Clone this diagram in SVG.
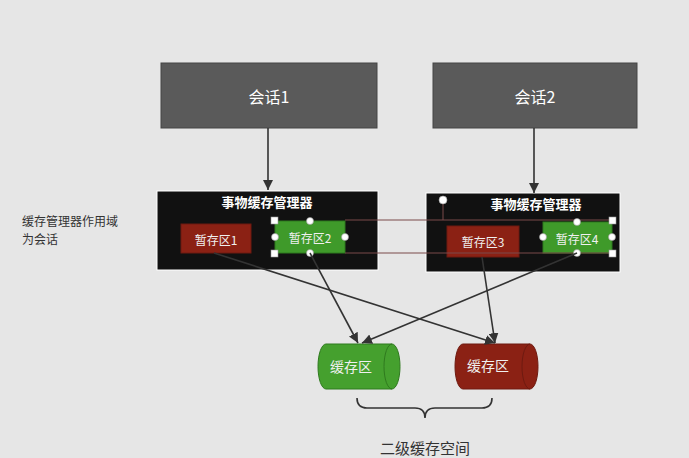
<svg xmlns="http://www.w3.org/2000/svg" width="689" height="458" viewBox="0 0 689 458">
<defs>
<marker id="ah" viewBox="0 0 10 10" refX="10" refY="5" markerWidth="10" markerHeight="10" markerUnits="userSpaceOnUse" orient="auto">
<path d="M0,0 L10,5 L0,10 Z" fill="#333"/>
</marker>
<style>
text{font-family:"Noto Sans CJK SC","Liberation Sans",sans-serif;}
.sess{fill:#5a5a5a;stroke:#444;stroke-width:1}
.st{fill:#fff;font-size:16px;text-anchor:middle;dominant-baseline:central}
.mgr{fill:#111;stroke:#fff;stroke-width:1}
.mt{fill:#fff;font-size:13px;font-weight:bold;text-anchor:middle;dominant-baseline:central}
.red{fill:#8b2114;stroke:#6e1a10}
.grn{fill:#3f9a2a;stroke:#2f7a1e}
.bt{fill:#f0f0f0;font-size:12px;text-anchor:middle;dominant-baseline:central}
.conn{stroke:#333;stroke-width:1.6;fill:none}
.sel{stroke:#7a4a4a;stroke-width:1;fill:none}
.hc{fill:#fff;stroke:#999;stroke-width:0.6}
.hs{fill:#fff;stroke:#999;stroke-width:0.6}
</style>
</defs>
<rect width="689" height="458" fill="#e6e6e6"/>

<g id="session1"><rect class="sess" x="161" y="63" width="216" height="65"/><text class="st" x="269" y="96">会话1</text></g>
<g id="session2"><rect class="sess" x="433" y="63" width="204" height="65"/><text class="st" x="535" y="96">会话2</text></g>

<g id="manager1"><rect class="mgr" x="157" y="191" width="221" height="79"/><text class="mt" x="267" y="201">事物缓存管理器</text></g>
<g id="manager2"><rect class="mgr" x="426" y="193" width="194" height="79"/><text class="mt" x="536" y="203">事物缓存管理器</text></g>

<g id="buf1"><rect class="red" x="181" y="224" width="70" height="29"/><text class="bt" x="216" y="239">暂存区1</text></g>
<g id="buf2"><rect class="grn" x="275" y="221" width="70" height="32"/><text class="bt" x="310" y="237">暂存区2</text></g>
<g id="buf3"><rect class="red" x="447" y="226" width="72" height="31"/><text class="bt" x="483" y="241">暂存区3</text></g>
<g id="buf4"><rect class="grn" x="543" y="222" width="69" height="31"/><text class="bt" x="577" y="238">暂存区4</text></g>

<g id="selection">
<path class="sel" d="M345,220 H612 M345,253 H612 M443,200 V220"/>
<rect class="hs" x="271" y="217" width="7" height="7"/>
<rect class="hs" x="271" y="250" width="7" height="7"/>
<circle class="hc" cx="310" cy="221" r="3.5"/>
<circle class="hc" cx="275" cy="237" r="3.5"/>
<circle class="hc" cx="345" cy="237" r="3.5"/>
<circle class="hc" cx="310" cy="253" r="3.5"/>
<circle class="hc" cx="443" cy="200" r="4"/>
<rect class="hs" x="609" y="217" width="7" height="7"/>
<rect class="hs" x="609" y="250" width="7" height="7"/>
<circle class="hc" cx="577" cy="222" r="3.5"/>
<circle class="hc" cx="543" cy="237" r="3.5"/>
<circle class="hc" cx="612" cy="237" r="3.5"/>
<circle class="hc" cx="577" cy="253" r="3.5"/>
</g>

<g id="cache1">
<path d="M326,344 H392 A8,22.5 0 0 1 392,389 H326 A8,22.5 0 0 1 326,344 Z" fill="#45a02e" stroke="#2f7a1e"/>
<path d="M392,344 A8,22.5 0 0 0 392,389" fill="none" stroke="#2f7a1e"/>
<text class="bt" x="351" y="366" style="font-size:14px">缓存区</text>
</g>
<g id="cache2">
<path d="M463,344 H530 A8,22.5 0 0 1 530,389 H463 A8,22.5 0 0 1 463,344 Z" fill="#8b2114" stroke="#6e1a10"/>
<path d="M530,344 A8,22.5 0 0 0 530,389" fill="none" stroke="#6e1a10"/>
<text class="bt" x="488" y="365" style="font-size:14px">缓存区</text>
</g>

<g id="connectors">
<line class="conn" x1="268" y1="128" x2="268" y2="190" marker-end="url(#ah)"/>
<line class="conn" x1="534" y1="128" x2="534" y2="193" marker-end="url(#ah)"/>
<line class="conn" x1="310" y1="253" x2="358" y2="343" marker-end="url(#ah)"/>
<line class="conn" x1="214" y1="253" x2="495" y2="343" marker-end="url(#ah)"/>
<line class="conn" x1="482" y1="257" x2="495" y2="343" marker-end="url(#ah)"/>
<line class="conn" x1="577" y1="253" x2="362" y2="343" marker-end="url(#ah)"/>
</g>

<g id="brace">
<path d="M357,398 Q357,408 367,408 H415 Q425,408 425,418 Q425,408 435,408 H482 Q492,408 492,398" fill="none" stroke="#333" stroke-width="1.6"/>
<text x="425" y="447" style="font-size:15px;fill:#333;text-anchor:middle;dominant-baseline:central">二级缓存空间</text>
</g>

<g id="note">
<text x="22" y="226" style="font-size:12px;fill:#333">缓存管理器作用域</text>
<text x="22" y="244" style="font-size:12px;fill:#333">为会话</text>
</g>
</svg>
